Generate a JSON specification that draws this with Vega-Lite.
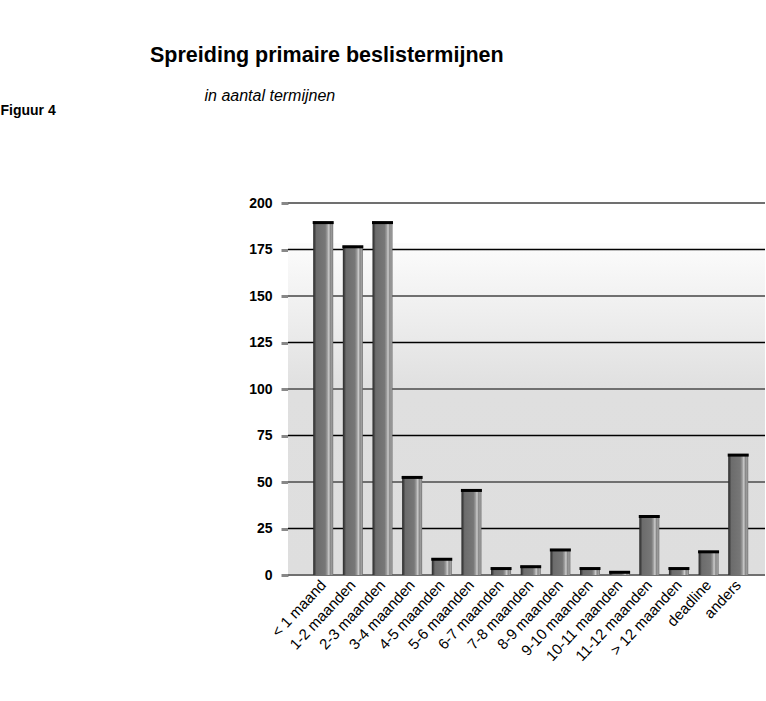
{
  "$schema": "https://vega.github.io/schema/vega-lite/v6.json",
  "autosize": "none",
  "width": 477,
  "height": 372,
  "padding": {"left": 288, "top": 203, "right": 1, "bottom": 126},
  "background": "white",
  "title": {
    "text": "Spreiding primaire beslistermijnen",
    "anchor": "start",
    "frame": "group",
    "orient": "top",
    "dx": -138,
    "offset": 4,
    "baseline": "alphabetic",
    "font": "'Liberation Sans', sans-serif",
    "fontSize": 21.5,
    "fontWeight": "bold",
    "color": "black"
  },
  "config": {
    "view": {"stroke": null},
    "font": "'Liberation Sans', sans-serif"
  },
  "datasets": {
    "bars": [
      {"periode": "< 1 maand", "aantal": 190},
      {"periode": "1-2 maanden", "aantal": 177},
      {"periode": "2-3 maanden", "aantal": 190},
      {"periode": "3-4 maanden", "aantal": 53},
      {"periode": "4-5 maanden", "aantal": 9},
      {"periode": "5-6 maanden", "aantal": 46},
      {"periode": "6-7 maanden", "aantal": 4},
      {"periode": "7-8 maanden", "aantal": 5},
      {"periode": "8-9 maanden", "aantal": 14},
      {"periode": "9-10 maanden", "aantal": 4},
      {"periode": "10-11 maanden", "aantal": 2},
      {"periode": "11-12 maanden", "aantal": 32},
      {"periode": "> 12 maanden", "aantal": 4},
      {"periode": "deadline", "aantal": 13},
      {"periode": "anders", "aantal": 65}
    ],
    "grid": [
      {"v": 0}, {"v": 25}, {"v": 50}, {"v": 75}, {"v": 100},
      {"v": 125}, {"v": 150}, {"v": 175}, {"v": 200}
    ]
  },
  "layer": [
    {
      "data": {"values": [{}]},
      "mark": {
        "type": "rect",
        "fill": {
          "gradient": "linear",
          "x1": 0, "y1": 0, "x2": 0, "y2": 1,
          "stops": [
            {"offset": 0, "color": "#fcfcfc"},
            {"offset": 0.45, "color": "#dfdfdf"},
            {"offset": 1, "color": "#dedede"}
          ]
        }
      },
      "encoding": {
        "y": {"datum": 178.5, "type": "quantitative", "scale": {"domain": [0, 200], "nice": false}},
        "y2": {"datum": 0}
      }
    },
    {
      "data": {"name": "grid"},
      "mark": {"type": "rule"},
      "encoding": {
        "y": {"field": "v", "type": "quantitative"},
        "color": {
          "condition": {"test": "datum.v % 50 === 0", "value": "#707070"},
          "value": "#000000"
        },
        "strokeWidth": {
          "condition": {"test": "datum.v % 50 === 0", "value": 2.2},
          "value": 1.3
        }
      }
    },
    {
      "data": {"name": "bars"},
      "mark": {
        "type": "bar",
        "fill": {
          "gradient": "linear",
          "x1": 0, "y1": 0, "x2": 1, "y2": 0,
          "stops": [
            {"offset": 0, "color": "#2a2a2a"},
            {"offset": 0.08, "color": "#444444"},
            {"offset": 0.16, "color": "#6c6c6c"},
            {"offset": 0.6, "color": "#777777"},
            {"offset": 0.7, "color": "#9a9a9a"},
            {"offset": 0.78, "color": "#cccccc"},
            {"offset": 0.86, "color": "#888888"},
            {"offset": 0.94, "color": "#a0a0a0"},
            {"offset": 1, "color": "#666666"}
          ]
        }
      },
      "encoding": {
        "x": {
          "field": "periode",
          "type": "nominal",
          "sort": null,
          "scale": {"paddingInner": 0.325, "paddingOuter": 0.708, "align": 0.6},
          "axis": {
            "title": "in aantal termijnen",
            "titleX": -84,
            "titleY": -475,
            "titleAlign": "left",
            "titleAnchor": null,
            "titleBaseline": "alphabetic",
            "titleFontStyle": "italic",
            "titleFontWeight": "normal",
            "titleFontSize": 16,
            "titleColor": "black",
            "labelAngle": -47,
            "labelFontSize": 15,
            "labelColor": "black",
            "labelPadding": 7,
            "ticks": false,
            "domain": false
          }
        },
        "y": {
          "field": "aantal",
          "type": "quantitative",
          "scale": {"domain": [0, 200], "nice": false},
          "axis": {
            "values": [0, 25, 50, 75, 100, 125, 150, 175, 200],
            "title": "Figuur 4",
            "titleX": -288,
            "titleY": -89,
            "titleAngle": 0,
            "titleAlign": "left",
            "titleAnchor": null,
            "titleBaseline": "alphabetic",
            "titleFontSize": 14,
            "titleFontWeight": "bold",
            "titleColor": "black",
            "grid": false,
            "domain": false,
            "tickColor": "#888888",
            "tickSize": 7,
            "tickWidth": 3,
            "labelFontSize": 14,
            "labelFontWeight": "bold",
            "labelColor": "black",
            "labelPadding": 9
          }
        }
      }
    },
    {
      "data": {"name": "bars"},
      "mark": {"type": "tick", "color": "black", "thickness": 3, "size": 21, "yOffset": 1, "opacity": 1},
      "encoding": {
        "x": {"field": "periode", "type": "nominal", "sort": null},
        "y": {"field": "aantal", "type": "quantitative"}
      }
    }
  ]
}
